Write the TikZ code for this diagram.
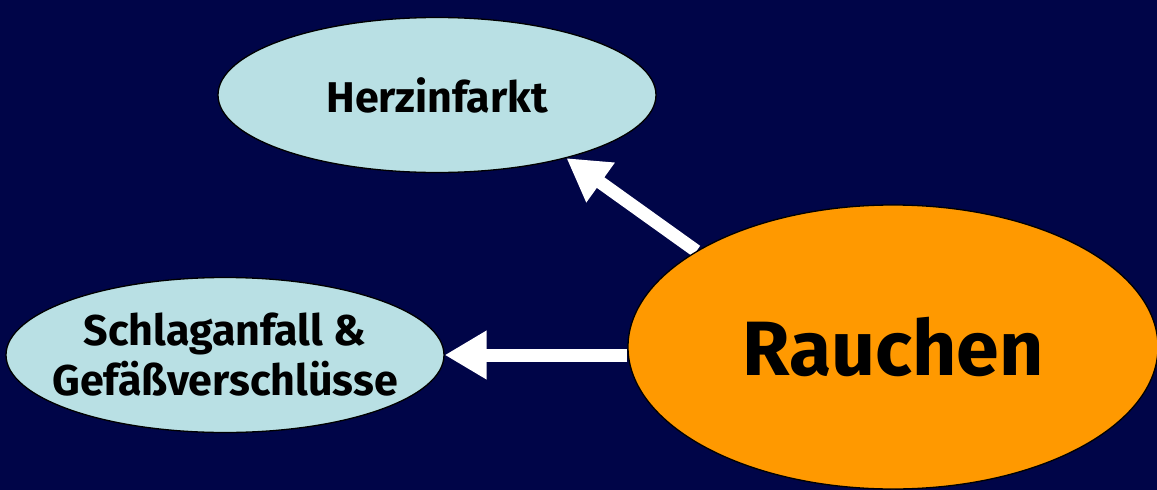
\documentclass[tikz,border=0pt]{standalone}
\usepackage{fontspec}
\setmainfont{Fira Sans}
\usetikzlibrary{shapes.geometric,arrows.meta}
\definecolor{navy}{RGB}{0,5,72}
\definecolor{paleblue}{RGB}{185,224,228}
\definecolor{smoke}{RGB}{255,153,0}
\pgfdeclarelayer{back}
\pgfdeclarelayer{links}
\pgfsetlayers{back,links,main}
% a line of text that takes no width, so the ellipse keeps its set size
\newcommand{\flatline}[1]{\makebox[0pt]{#1}}
\begin{document}
\begin{tikzpicture}[x=1pt,y=-1pt,
  oval/.style={ellipse,draw=black,line width=1.3pt,inner sep=0pt,
    align=center,font=\bfseries},
  effect/.style={oval,fill=paleblue,minimum width=438pt,minimum height=155pt,
    font=\fontsize{43}{50}\selectfont\bfseries},
  cause/.style={oval,fill=smoke,minimum width=530pt,minimum height=284pt,
    font=\fontsize{77}{80}\selectfont\bfseries},
  link/.style={draw=white,line width=13pt,
    -{Triangle[length=42pt,width=46pt]}}]
\begin{pgfonlayer}{back}
  \fill[navy] (0,0) rectangle (1157,490);
\end{pgfonlayer}
\useasboundingbox (0,0) rectangle (1157,490);

\node[effect] (h) at (437,95) {Herzinfarkt};
\node[effect] (s) at (225,355)
  {\flatline{Schlaganfall \&}\\\flatline{Gefäßverschlüsse}};
\node[cause] (r) at (893,347) {Rauchen};

\begin{pgfonlayer}{links}
  \draw[link] (r.154) -- (h.-26.6);
  \draw[link] (r.west |- s.east) -- (s.east);
\end{pgfonlayer}
\end{tikzpicture}
\end{document}
